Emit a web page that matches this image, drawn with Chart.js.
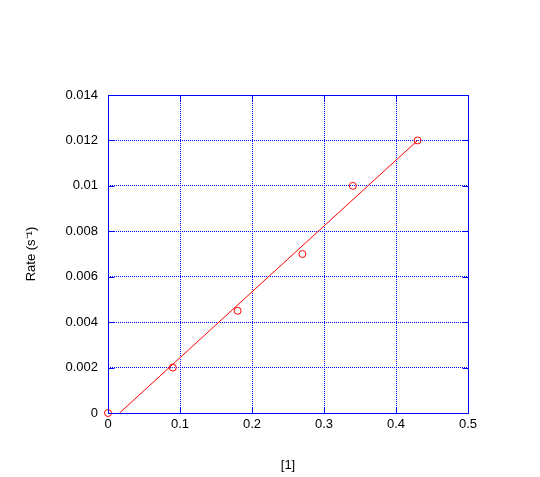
<!DOCTYPE html>
<html>
<head>
<meta charset="utf-8">
<script src="https://cdn.jsdelivr.net/npm/chart.js@4"></script>
<style>
html, body { margin: 0; padding: 0; background: #fff; }
#wrap { width: 540px; height: 477px; }
</style>
</head>
<body>
<div id="wrap"><canvas id="myChart" width="540" height="477"></canvas></div>
<script>
// measured points
const concX = [0, 0.09, 0.18, 0.27, 0.34, 0.43];
const rateY = [0, 0.002, 0.0045, 0.007, 0.01, 0.012];
// fitted line as drawn in the picture
const fitX = [0.016, 0.43];
const fitY = [0, 0.012];
const xTicks = ['0', '0.1', '0.2', '0.3', '0.4', '0.5'];
const yTicks = ['0', '0.002', '0.004', '0.006', '0.008', '0.01', '0.012', '0.014'];

const blue = '#0000ff';
const red = '#ff0000';

// solid frame plus short inward tick marks on all four sides
const frameTicks = {
  id: 'frameTicks',
  afterDatasetsDraw(chart) {
    const c = chart.ctx;
    const xs = chart.scales.x, ys = chart.scales.y;
    const px = v => Math.round(xs.getPixelForValue(v)) + 0.5;
    const py = v => Math.round(ys.getPixelForValue(v)) + 0.5;
    const L = px(xs.min), R = px(xs.max), T = py(ys.max), B = py(ys.min);
    c.save();
    c.strokeStyle = blue;
    c.lineWidth = 1;
    c.setLineDash([]);
    c.beginPath();
    c.rect(L, T, R - L, B - T);
    xs.ticks.forEach(t => {
      const x = px(t.value);
      c.moveTo(x, B); c.lineTo(x, B - 6);
      c.moveTo(x, T); c.lineTo(x, T + 6);
    });
    ys.ticks.forEach(t => {
      const y = py(t.value);
      c.moveTo(L, y); c.lineTo(L + 6, y);
      c.moveTo(R, y); c.lineTo(R - 6, y);
    });
    c.stroke();
    c.restore();
  }
};

const ctx = document.getElementById('myChart');

new Chart(ctx, {
  type: 'scatter',
  data: {
    datasets: [{
      label: 'data',
      data: concX.map((x, i) => ({ x: x, y: rateY[i] })),
      pointStyle: 'circle',
      pointRadius: 3.5,
      borderColor: red,
      backgroundColor: 'rgba(0,0,0,0)',
      borderWidth: 1,
      clip: false,
      order: 1
    }, {
      type: 'line',
      label: 'fit',
      data: fitX.map((x, i) => ({ x: x, y: fitY[i] })),
      borderColor: red,
      borderWidth: 1,
      pointRadius: 0,
      fill: false,
      order: 2
    }]
  },
  options: {
    responsive: false,
    animation: false,
    layout: { padding: { top: 95, right: 72, left: 0, bottom: 0 } },
    plugins: { legend: { display: false }, tooltip: { enabled: false } },
    scales: {
      x: {
        type: 'linear',
        min: 0, max: 0.5,
        ticks: {
          stepSize: 0.1,
          color: '#000',
          font: { family: 'Liberation Sans', size: 13 },
          padding: 4,
          callback: (v, i) => xTicks[i]
        },
        grid: { color: blue, lineWidth: 1, drawTicks: false, tickLength: 0 },
        border: { display: false, color: blue, width: 1, dash: [1, 1] },
        title: {
          display: true, text: '[1]', color: '#000',
          font: { family: 'Liberation Sans', size: 13 },
          padding: { top: 6 }
        },
        afterFit: s => { s.height = 64; }
      },
      y: {
        type: 'linear',
        min: 0, max: 0.014,
        ticks: {
          stepSize: 0.002,
          color: '#000',
          font: { family: 'Liberation Sans', size: 13 },
          padding: 10,
          callback: (v, i) => yTicks[i]
        },
        grid: { color: blue, lineWidth: 1, drawTicks: false, tickLength: 0 },
        border: { display: false, color: blue, width: 1, dash: [1, 1] },
        title: {
          display: true, text: 'Rate (s\u207B\u00B9)', color: '#000',
          font: { family: 'Liberation Sans', size: 13 },
          padding: { top: 24, bottom: 0 }
        },
        afterFit: s => { s.width = 108; }
      }
    }
  },
  plugins: [frameTicks]
});
</script>
</body>
</html>
